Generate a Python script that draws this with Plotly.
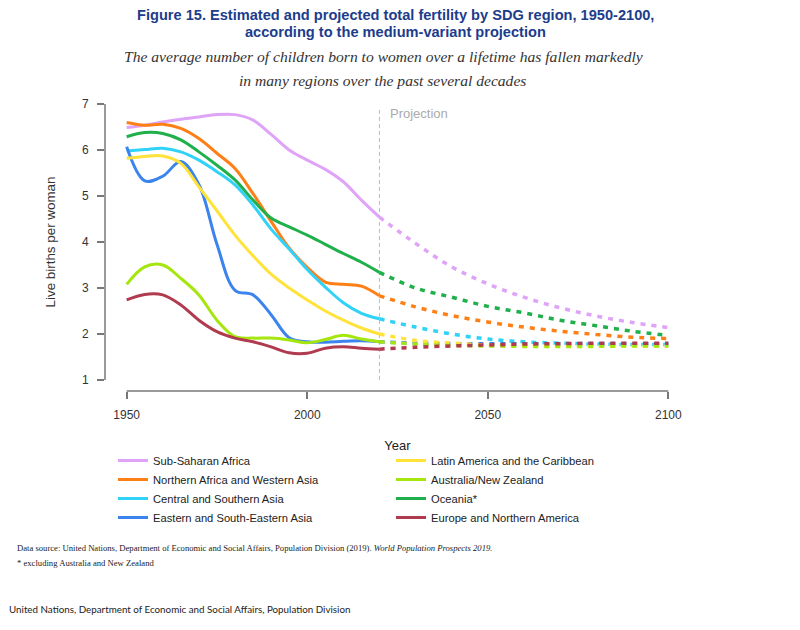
import plotly.graph_objects as go

# ---------------- data ----------------
hist_years = [1950, 1955, 1960, 1965, 1970, 1975, 1980, 1985, 1990, 1995, 2000, 2005, 2010, 2015, 2020]
proj_years = [2030, 2040, 2050, 2060, 2070, 2080, 2090, 2100]

regions = ["Sub-Saharan Africa", "Northern Africa and Western Asia", "Central and Southern Asia",
           "Eastern and South-Eastern Asia", "Latin America and the Caribbean", "Australia/New Zealand",
           "Oceania*", "Europe and Northern America"]

ssa_hist = [6.49, 6.54, 6.61, 6.67, 6.72, 6.77, 6.77, 6.65, 6.34, 6.00, 5.78, 5.58, 5.31, 4.91, 4.54]
nawa_hist = [6.60, 6.54, 6.56, 6.47, 6.25, 5.93, 5.60, 5.05, 4.45, 3.87, 3.45, 3.13, 3.08, 3.04, 2.83]
csa_hist = [5.98, 6.01, 6.04, 5.96, 5.78, 5.53, 5.24, 4.80, 4.28, 3.85, 3.40, 3.02, 2.68, 2.45, 2.33]
esea_hist = [6.07, 5.33, 5.43, 5.75, 5.25, 3.95, 2.95, 2.85, 2.42, 1.92, 1.83, 1.82, 1.84, 1.85, 1.83]
lac_hist = [5.82, 5.86, 5.87, 5.71, 5.20, 4.68, 4.15, 3.70, 3.30, 3.00, 2.74, 2.50, 2.30, 2.13, 2.00]
anz_hist = [3.08, 3.46, 3.50, 3.21, 2.85, 2.30, 1.94, 1.91, 1.91, 1.87, 1.81, 1.88, 1.97, 1.89, 1.83]
oce_hist = [6.29, 6.38, 6.36, 6.22, 5.96, 5.67, 5.35, 4.91, 4.52, 4.33, 4.15, 3.95, 3.75, 3.56, 3.34]
ena_hist = [2.74, 2.86, 2.85, 2.63, 2.30, 2.05, 1.91, 1.83, 1.72, 1.59, 1.58, 1.69, 1.72, 1.69, 1.67]

ssa_proj = [3.97, 3.46, 3.09, 2.80, 2.57, 2.39, 2.25, 2.14]
nawa_proj = [2.59, 2.40, 2.26, 2.15, 2.06, 1.99, 1.93, 1.90]
csa_proj = [2.15, 2.00, 1.89, 1.83, 1.80, 1.78, 1.77, 1.77]
esea_proj = [1.80, 1.79, 1.79, 1.79, 1.79, 1.79, 1.79, 1.79]
lac_proj = [1.86, 1.80, 1.76, 1.75, 1.74, 1.74, 1.74, 1.74]
anz_proj = [1.78, 1.75, 1.74, 1.73, 1.73, 1.73, 1.74, 1.74]
oce_proj = [3.00, 2.80, 2.60, 2.46, 2.30, 2.18, 2.06, 1.97]
ena_proj = [1.71, 1.74, 1.76, 1.78, 1.79, 1.80, 1.80, 1.80]

colors = ["#DFA3F7", "#FF7F17", "#30D2F7", "#3B84EE", "#FFE23A", "#A4E60E", "#1FB04C", "#B03A4E"]

x_ticks = [1950, 2000, 2050, 2100]
y_ticks = [1, 2, 3, 4, 5, 6, 7]

hist_series = [ssa_hist, nawa_hist, csa_hist, esea_hist, lac_hist, anz_hist, oce_hist, ena_hist]
proj_series = [ssa_proj, nawa_proj, csa_proj, esea_proj, lac_proj, anz_proj, oce_proj, ena_proj]

# ---------------- figure ----------------
fig = go.Figure()
for i, (name, col, h, p) in enumerate(zip(regions, colors, hist_series, proj_series)):
    fig.add_trace(go.Scatter(
        x=hist_years, y=h, mode="lines", name=name,
        line=dict(color=col, width=3, shape="spline", smoothing=1.0),
        legend="legend" if i < 4 else "legend2", legendrank=i,
    ))
    fig.add_trace(go.Scatter(
        x=[hist_years[-1]] + proj_years, y=[h[-1]] + p, mode="lines", name=name,
        line=dict(color=col, width=3.5, shape="spline", smoothing=1.0, dash="5px,6px"),
        showlegend=False,
    ))

xspan = x_ticks[-1] - x_ticks[0]
yspan = y_ticks[-1] - y_ticks[0]
x_range = [x_ticks[0] - 0.04 * xspan, x_ticks[-1] + 0.04 * xspan]
y_range = [y_ticks[0] - 0.04 * yspan, y_ticks[-1] + 0.04 * yspan]

axis_col = "#777777"
sans = "Liberation Sans, Arial, sans-serif"
serif = "Liberation Serif, Times New Roman, serif"

# plot area in reference pixels: x 105..690, y 93..391 (page has an 8px body margin)
PX_L, PX_W, PX_B, PX_H = 105, 585, 391, 298


def px(xp):
    return (xp - PX_L) / PX_W


def py(yp):
    return (PX_B - yp) / PX_H


fig.update_layout(
    width=792, height=622,
    margin=dict(l=97, r=110, t=85, b=239),
    paper_bgcolor="white", plot_bgcolor="white",
    font=dict(family=sans, color="#333333"),
    xaxis=dict(range=x_range, tickvals=x_ticks, showgrid=False, zeroline=False, showline=False,
               ticks="outside", ticklen=7, tickwidth=1.5, tickcolor=axis_col,
               tickfont=dict(size=12, color="#333333"), ticklabelstandoff=6,
               title=dict(text="Year", font=dict(size=13, color="#222222"), standoff=19)),
    yaxis=dict(range=y_range, tickvals=y_ticks, showgrid=False, zeroline=False, showline=False,
               ticks="outside", ticklen=7, tickwidth=1.5, tickcolor=axis_col,
               tickfont=dict(size=12, color="#333333"), ticklabelstandoff=6,
               title=dict(text="Live births per woman", font=dict(size=13.4, color="#333333"), standoff=23)),
    legend=dict(x=px(113), xanchor="left", y=py(446), yanchor="top", bgcolor="rgba(0,0,0,0)",
                font=dict(family=sans, size=11.2, color="#222222"), tracegroupgap=0),
    legend2=dict(x=px(391), xanchor="left", y=py(446), yanchor="top", bgcolor="rgba(0,0,0,0)",
                 font=dict(family=sans, size=11.2, color="#222222"), tracegroupgap=0),
    showlegend=True,
)

# R-style axis lines spanning first to last tick
fig.add_shape(type="line", xref="x", yref="paper", x0=x_ticks[0], x1=x_ticks[-1], y0=0, y1=0,
              line=dict(color=axis_col, width=1.5), layer="above")
fig.add_shape(type="line", xref="paper", yref="y", x0=0, x1=0, y0=y_ticks[0], y1=y_ticks[-1],
              line=dict(color=axis_col, width=1.5), layer="above")
# projection divider
fig.add_shape(type="line", xref="x", yref="y", x0=hist_years[-1], x1=hist_years[-1],
              y0=y_ticks[0], y1=y_ticks[-1] - 0.07, line=dict(color="#BBBBBB", width=1, dash="4px,3px"),
              layer="below")
fig.add_annotation(x=hist_years[-1], y=6.80, xref="x", yref="y", text="Projection", showarrow=False,
                   xanchor="left", xshift=9, font=dict(size=13, color="#AAAAAA", family=sans))

# titles
title_col = "#1C3C8C"
fig.add_annotation(xref="paper", yref="paper", x=px(395), y=py(15),
                   text="<b>Figure 15. Estimated and projected total fertility by SDG region, 1950-2100,</b>",
                   showarrow=False, xanchor="center", yanchor="middle",
                   font=dict(family=sans, size=14.6, color=title_col))
fig.add_annotation(xref="paper", yref="paper", x=px(395), y=py(32),
                   text="<b>according to the medium-variant projection</b>",
                   showarrow=False, xanchor="center", yanchor="middle",
                   font=dict(family=sans, size=14.6, color=title_col))
fig.add_annotation(xref="paper", yref="paper", x=px(383), y=py(57),
                   text="<i>The average number of children born to women over a lifetime has fallen markedly</i>",
                   showarrow=False, xanchor="center", yanchor="middle",
                   font=dict(family=serif, size=15.6, color="#333333"))
fig.add_annotation(xref="paper", yref="paper", x=px(382), y=py(80),
                   text="<i>in many regions over the past several decades</i>",
                   showarrow=False, xanchor="center", yanchor="middle",
                   font=dict(family=serif, size=15.6, color="#333333"))

# footer
fig.add_annotation(xref="paper", yref="paper", x=px(15), y=py(548),
                   text="Data source: United Nations, Department of Economic and Social Affairs, Population Division (2019). <i>World Population Prospects 2019.</i>",
                   showarrow=False, xanchor="left", yanchor="middle",
                   font=dict(family=serif, size=8.65, color="#222222"))
fig.add_annotation(xref="paper", yref="paper", x=px(15), y=py(563),
                   text="* excluding Australia and New Zealand",
                   showarrow=False, xanchor="left", yanchor="middle",
                   font=dict(family=serif, size=8.65, color="#222222"))
fig.add_annotation(xref="paper", yref="paper", x=px(7), y=py(609),
                   text="United Nations, Department of Economic and Social Affairs, Population Division",
                   showarrow=False, xanchor="left", yanchor="middle",
                   font=dict(family="Lato, Liberation Sans, sans-serif", size=9.8, color="#222222"))

fig.write_html("out.html")
